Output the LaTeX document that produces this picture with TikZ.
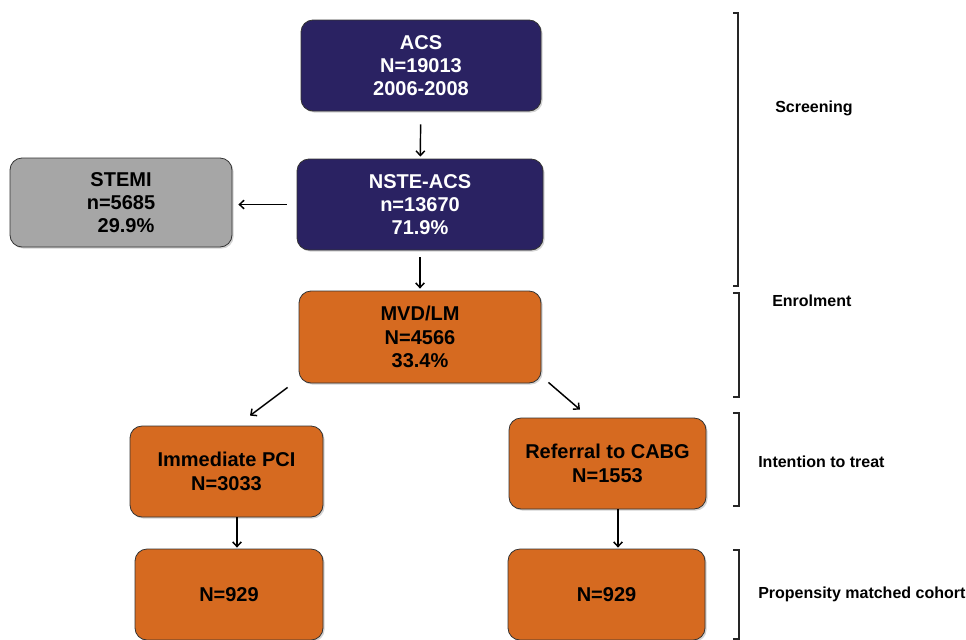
\documentclass[tikz,border=0pt]{standalone}
\usepackage{fontspec}
\setmainfont{Liberation Sans}
\usetikzlibrary{arrows.meta,calc,shadows}
\definecolor{navy}{RGB}{42,34,98}
\definecolor{orng}{RGB}{214,106,32}
\definecolor{gry}{RGB}{166,166,166}
\begin{document}
\begin{tikzpicture}[x=0.75pt,y=0.75pt,
  box/.style={draw=black!80, line width=0.6pt, rounded corners=9pt, align=center,
    font=\fontsize{15}{17.5}\selectfont\bfseries, inner sep=0pt,
    drop shadow={shadow xshift=1.2pt,shadow yshift=-1.2pt,opacity=0.35}},
  navybox/.style={box, fill=navy, text=white},
  orbox/.style={box, fill=orng, text=black},
  grbox/.style={box, fill=gry, text=black},
  arr/.style={-{Straight Barb[length=3.5pt,width=6.5pt]}, line width=1.1pt},
  brk/.style={line width=1.1pt, black!85},
  lbl/.style={anchor=west, font=\fontsize{12}{14}\selectfont\bfseries, inner sep=0pt}]
\useasboundingbox (0,0) rectangle (966,-639);
% boxes
\node[navybox, minimum width=180pt, minimum height=68.25pt] (acs) at (421,-65.5) {ACS\\N=19013\\2006-2008};
\node[navybox, minimum width=184.5pt, minimum height=68.25pt] (nste) at (420,-204.5) {NSTE-ACS\\n=13670\\71.9\%};
\node[grbox, minimum width=166.5pt, minimum height=66.75pt] (stemi) at (121,-202.5) {STEMI\\n=5685\\\hspace*{0.5em}29.9\%};
\node[orbox, minimum width=181.5pt, minimum height=69pt] (mvd) at (420,-337) {MVD/LM\\N=4566\\33.4\%};
\node[orbox, minimum width=144.75pt, minimum height=68.25pt] (pci) at (226.5,-471.5) {Immediate PCI\\N=3033};
\node[orbox, minimum width=147.75pt, minimum height=68.25pt] (cabg) at (607.5,-463.5) {Referral to CABG\\N=1553};
\node[orbox, minimum width=141pt, minimum height=68.25pt] (pm1) at (229,-594.5) {N=929};
\node[orbox, minimum width=147.75pt, minimum height=68.25pt] (pm2) at (606.5,-594.5) {N=929};
% helper coordinates
\coordinate (s1) at ($(pci.south)+(10.5,0)$);
\coordinate (s2) at ($(cabg.south)+(10.5,0)$);
% arrows
\draw[arr, shorten <=9.75pt, shorten >=1.5pt] (acs) -- (nste);
\draw[arr, shorten <=5.25pt, shorten >=1.5pt] (nste) -- (mvd);
\draw[arr, shorten <=7.5pt, shorten >=4.5pt] (nste.west) -- (nste.west -| stemi.east);
\draw[arr] ($(mvd.south west)+(-11,-4)$) -- ($(pci.north)+(23.5,10)$);
\draw[arr] ($(mvd.south east)+(7,1)$) -- ($(cabg.north)+(-27.5,8)$);
\draw[arr, shorten >=0.75pt] (s1) -- (s1 |- pm1.north);
\draw[arr, shorten >=0.75pt] (s2) -- (s2 |- pm2.north);
% brackets
\draw[brk] (733,-13) -- (738,-13) -- (738,-286) -- (733,-286);
\draw[brk] (733,-293) -- (739,-293) -- (739,-397) -- (733,-397);
\draw[brk] (733,-413) -- (739,-413) -- (739,-506) -- (733,-506);
\draw[brk] (733,-550) -- (739,-550) -- (739,-639) -- (733,-639);
% labels
\node[lbl] (l1) at (775,-108) {Screening};
\node[lbl] (l2) at (772,-301) {Enrolment};
\node[lbl] (l3) at (758,-462) {Intention to treat};
\node[lbl] (l4) at (758,-594) {Propensity matched cohort};
\end{tikzpicture}
\end{document}
